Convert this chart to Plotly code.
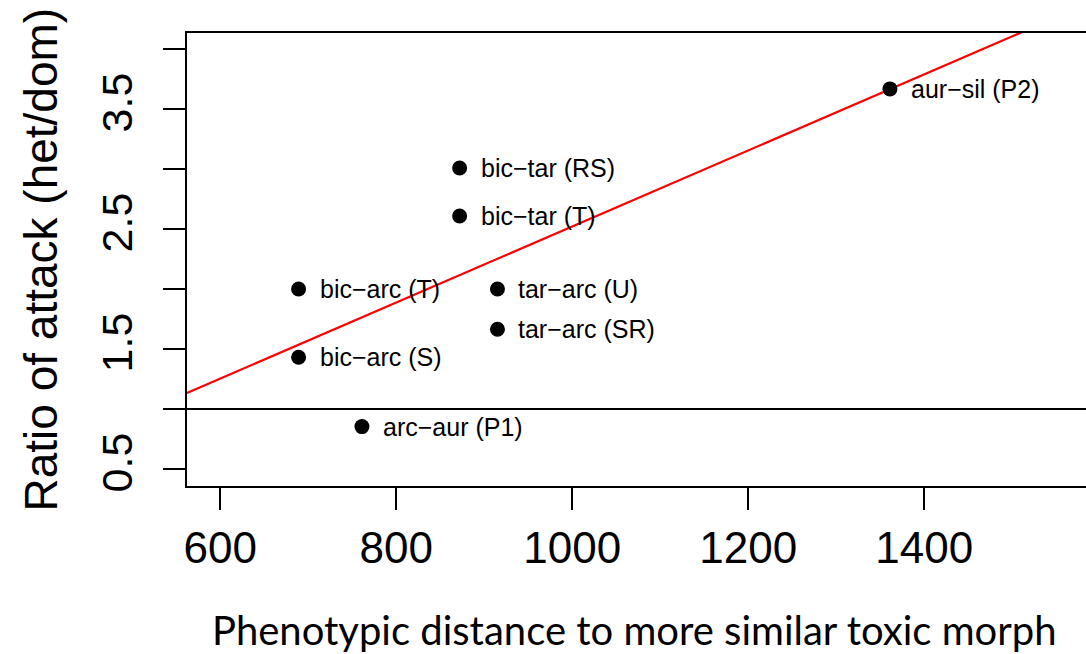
import numpy as np
import plotly.graph_objects as go

# Data
labels = ["aur\u2212sil (P2)", "bic\u2212tar (RS)", "bic\u2212tar (T)", "bic\u2212arc (T)",
          "tar\u2212arc (U)", "tar\u2212arc (SR)", "bic\u2212arc (S)", "arc\u2212aur (P1)"]
distance = [1361, 872, 872, 689, 915, 915, 689, 761]
ratio = [3.667, 3.008, 2.608, 2.0, 2.0, 1.664, 1.431, 0.853]

x_ticks = [600, 800, 1000, 1200, 1400]
y_ticks = [0.5, 1.0, 1.5, 2.0, 2.5, 3.0, 3.5, 4.0]
y_ticktext = ["0.5", "", "1.5", "", "2.5", "", "3.5", ""]

x_range = [562.2, 1583.8]
y_range = [0.358, 4.133]

slope, intercept = np.polyfit(distance, ratio, 1)
fit_x = np.array(x_range)
fit_y = intercept + slope * fit_x

FONT = "Liberation Sans, Arial, sans-serif"

fig = go.Figure()
fig.add_trace(go.Scatter(x=fit_x, y=fit_y, mode="lines",
                         line=dict(color="#ff0000", width=2.2), hoverinfo="skip"))
fig.add_trace(go.Scatter(x=distance, y=ratio, mode="markers",
                         marker=dict(color="black", size=15, line=dict(width=0))))

for lab, xv, yv in zip(labels, distance, ratio):
    fig.add_annotation(x=xv, y=yv, text=lab, showarrow=False, xanchor="left",
                       yanchor="middle", xshift=19,
                       font=dict(family=FONT, size=25, color="black"))

fig.add_shape(type="line", xref="paper", x0=0, x1=1, yref="y", y0=1, y1=1,
              line=dict(color="black", width=2))

fig.add_annotation(xref="paper", yref="paper", x=0, y=0.5, xshift=-147,
                   text="Ratio of attack (het/dom)", textangle=-90, showarrow=False,
                   xanchor="center", yanchor="middle",
                   font=dict(family=FONT, size=46, color="black"))
fig.add_annotation(xref="paper", yref="paper", x=0.498, y=0, yshift=-144,
                   text="Phenotypic distance to more similar toxic morph", showarrow=False,
                   xanchor="center", yanchor="middle",
                   font=dict(family="Lato, Carlito, sans-serif", size=40, color="black"))

fig.update_layout(
    width=1086, height=654,
    margin=dict(l=187, r=0, t=33, b=168),
    paper_bgcolor="white", plot_bgcolor="white",
    showlegend=False,
    xaxis=dict(range=x_range, tickvals=x_ticks, ticks="outside", ticklen=22,
               tickwidth=2, tickcolor="black", showline=True, linecolor="black",
               linewidth=2.3, mirror=True, showgrid=False, zeroline=False,
               tickfont=dict(family=FONT, size=44, color="black")),
    yaxis=dict(range=y_range, tickvals=y_ticks, ticktext=y_ticktext, ticks="outside",
               ticklen=22, tickwidth=2, tickcolor="black", showline=True,
               linecolor="black", linewidth=2.3, mirror=False, showgrid=False,
               zeroline=False, tickangle=-90, ticklabelstandoff=14,
               tickfont=dict(family=FONT, size=43, color="black")),
)

fig.write_html("out.html", config={"displayModeBar": False},
               post_script="document.body.style.margin='0';document.body.style.padding='0';")
